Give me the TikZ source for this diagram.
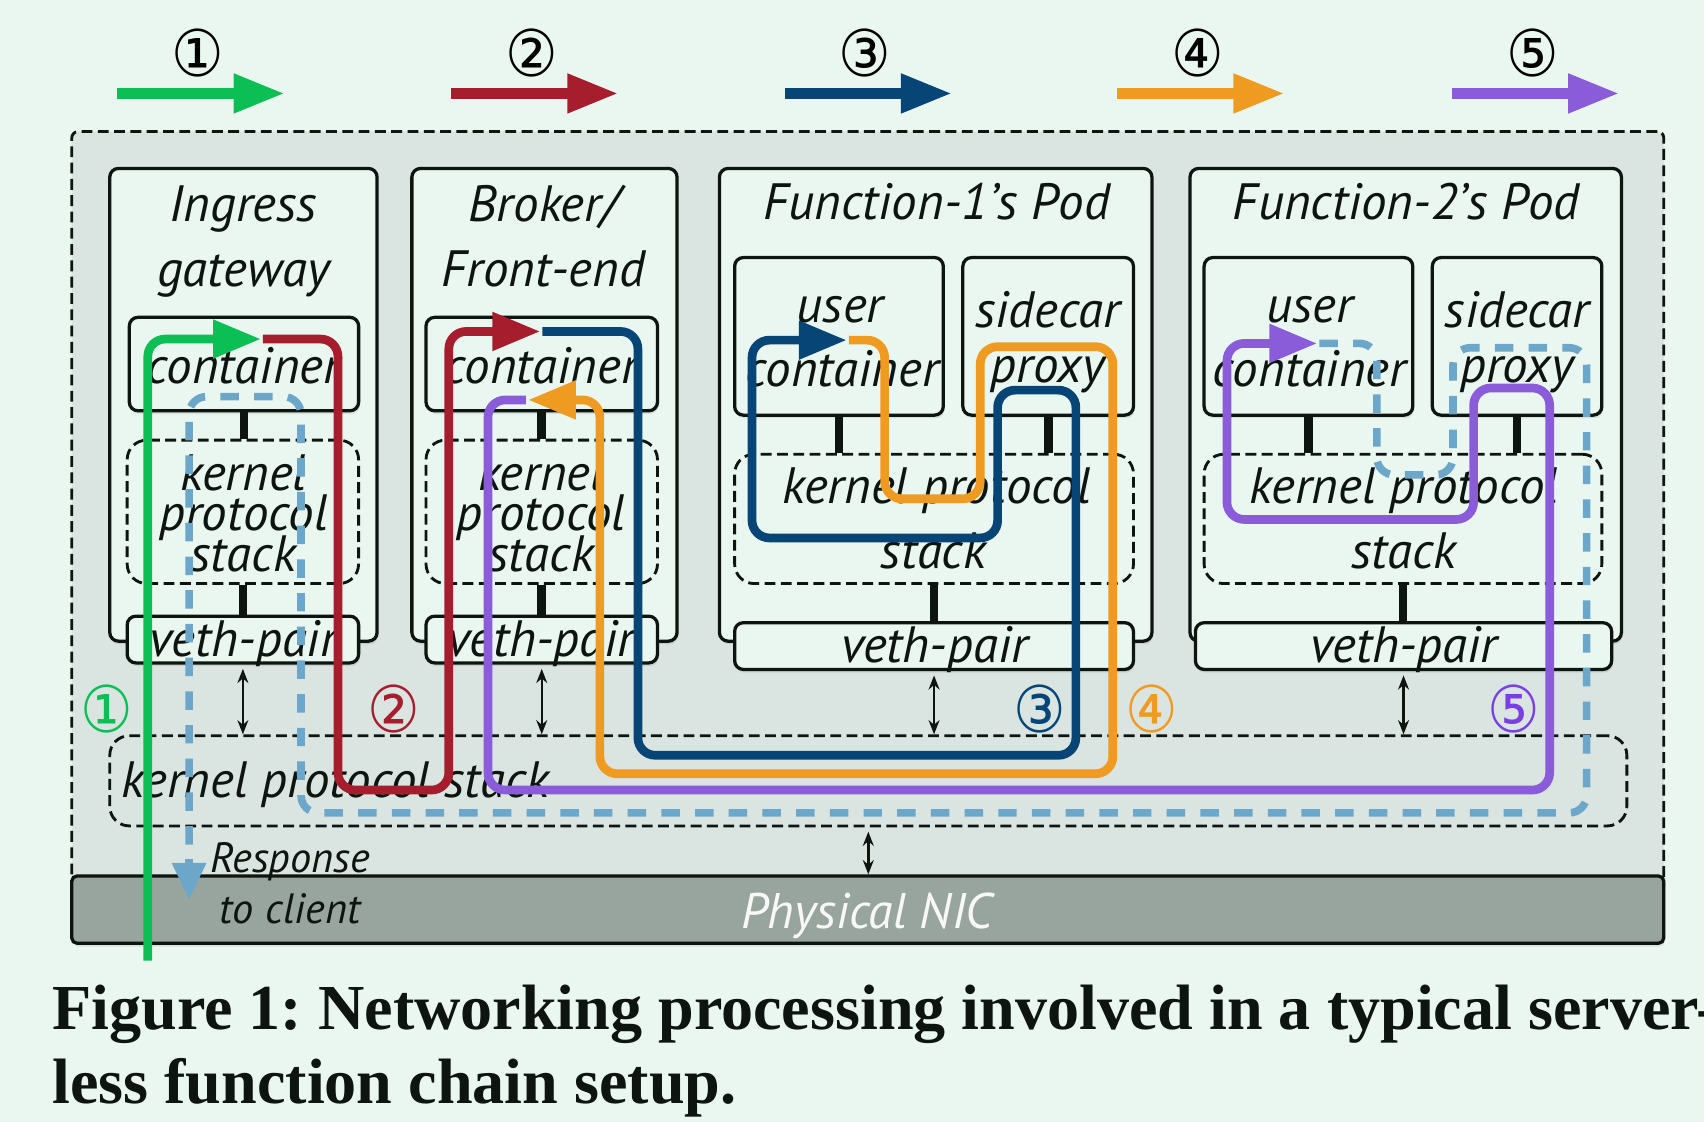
\documentclass[tikz,border=0pt]{standalone}
\usepackage{fontspec}
\usepackage{graphicx}
\setmainfont{Liberation Serif}
\newfontfamily\gill{PT Sans}
\newfontfamily\dejavu{DejaVu Sans}
\usetikzlibrary{arrows.meta,shadows,calc}
\definecolor{bg}{HTML}{EAF7F0}
\definecolor{hostfill}{HTML}{DAE4E0}
\definecolor{nicfill}{HTML}{98A59E}
\definecolor{cgreen}{HTML}{0CBF55}
\definecolor{cred}{HTML}{A61D2E}
\definecolor{cblue}{HTML}{064576}
\definecolor{corange}{HTML}{EF9A20}
\definecolor{cpurple}{HTML}{8A5CD9}
\definecolor{cviolet}{HTML}{7A3FE2}
\definecolor{cresp}{HTML}{6CA7C9}
\definecolor{ink}{HTML}{0E1410}
\newcommand{\cnum}[1]{\scalebox{1}[1.1]{#1}}
\begin{document}
\frenchspacing
\begin{tikzpicture}[x=1pt,y=-1pt,
  lbl/.style={font=\gill\itshape\fontsize{47}{47}\selectfont, inner sep=0pt, anchor=base, text=ink},
  small/.style={font=\gill\itshape\fontsize{39}{39}\selectfont, inner sep=0pt, anchor=base, text=ink},
  circ/.style={font=\dejavu\fontsize{54}{54}\selectfont, inner sep=0pt},
  sbox/.style={draw=ink, line width=3pt, rounded corners=8pt, fill=bg, inner sep=0pt,
     drop shadow={shadow xshift=1pt, shadow yshift=-3pt, opacity=0.18}},
  dbox/.style={draw=ink, line width=2.6pt, dash pattern=on 10pt off 5pt, rounded corners=18pt, inner sep=0pt},
  stem/.style={line width=8pt, ink},
  dbl/.style={{Stealth[length=13pt,width=10pt]}-{Stealth[length=13pt,width=10pt]}, line width=2.2pt, ink, shorten <=4pt},
  flow/.style={line width=8pt, rounded corners=16pt, -{Triangle[length=44pt,width=34pt]}},
  topar/.style={line width=10pt, -{Triangle[length=47pt,width=34pt]}},
  resp/.style={cresp, line width=7pt, dash pattern=on 17pt off 14pt, rounded corners=16pt},
  captext/.style={font=\bfseries\fontsize{59}{59}\selectfont, inner sep=0pt, anchor=base west, text=ink}
]
\fill[bg] (0,0) rectangle (1568,1032);
\useasboundingbox (0,0) rectangle (1568,1032);

% top legend arrows
\foreach \n/\x/\c/\g in {1/108/cgreen/①, 2/415/cred/②, 3/722/cblue/③, 4/1028/corange/④, 5/1336/cpurple/⑤}{
  \coordinate (ls\n) at (\x,86);
  \coordinate (le\n) at (\x+154,86);
  \node[circ] (lg\n) at (\x+74,49) {\cnum{\g}};
  \draw[topar, \c] (ls\n) -- (le\n);
}

% host
\node[draw=ink, line width=2.6pt, dash pattern=on 10pt off 5pt, rounded corners=6pt, fill=hostfill,
  minimum width=1465pt, minimum height=700pt, inner sep=0pt] (host) at (798.5,471) {};
\node[sbox, fill=nicfill, rounded corners=5pt, minimum width=1465pt, minimum height=62pt] (nic) at (798.5,837) {};
\node[font=\gill\itshape\fontsize{46}{46}\selectfont, inner sep=0pt, anchor=base, text=white!92!nicfill] (nict) at (798,854) {Physical NIC};

% pods
\node[sbox, minimum width=246pt, minimum height=435pt] (ingp) at (224,372.5) {};
\node[sbox, minimum width=244pt, minimum height=435pt] (brkp) at (501,372.5) {};
\node[sbox, minimum width=398pt, minimum height=435pt] (f1p) at (861,372.5) {};
\node[sbox, minimum width=397pt, minimum height=435pt] (f2p) at (1293.5,372.5) {};

\node[lbl] (t1a) at (224,204) {Ingress};
\node[lbl] (t1b) at (224,264) {gateway};
\node[lbl] (t2a) at (500,204) {Broker/};
\node[lbl] (t2b) at (500,264) {Front-end};
\node[lbl] (t3) at (862,202) {Function-1’s Pod};
\node[lbl] (t4) at (1294,202) {Function-2’s Pod};

% containers
\node[sbox, minimum width=211pt, minimum height=86pt] (ingc) at (224.5,335) {};
\node[sbox, minimum width=213pt, minimum height=86pt] (brkc) at (498.5,335) {};
\node[sbox, minimum width=192pt, minimum height=145pt] (f1u) at (772,309.5) {};
\node[sbox, minimum width=157pt, minimum height=145pt] (f1s) at (964.5,309.5) {};
\node[sbox, minimum width=192pt, minimum height=145pt] (f2u) at (1204,309.5) {};
\node[sbox, minimum width=156pt, minimum height=145pt] (f2s) at (1396,309.5) {};

% kernel stacks
\node[dbox, minimum width=213pt, minimum height=132pt] (ingk) at (223.5,471) {};
\node[dbox, minimum width=213pt, minimum height=132pt] (brkk) at (498.5,471) {};
\node[dbox, minimum width=367pt, minimum height=119pt] (f1k) at (859.5,477.5) {};
\node[dbox, minimum width=366pt, minimum height=119pt] (f2k) at (1291,477.5) {};
\node[dbox, minimum width=1396pt, minimum height=83pt] (hk) at (799,718.5) {};

% veth
\node[sbox, minimum width=213pt, minimum height=43pt] (ingv) at (223.5,588.5) {};
\node[sbox, minimum width=213pt, minimum height=43pt] (brkv) at (498.5,588.5) {};
\node[sbox, minimum width=367pt, minimum height=43pt] (f1v) at (859.5,594.5) {};
\node[sbox, minimum width=383pt, minimum height=43pt] (f2v) at (1291.5,594.5) {};

% stems
\draw[stem] (ingc.south) -- (ingc.south |- ingk.north);
\draw[stem] (ingk.south) -- (ingk.south |- ingv.north);
\draw[stem] (brkc.south) -- (brkc.south |- brkk.north);
\draw[stem] (brkk.south) -- (brkk.south |- brkv.north);
\draw[stem] (f1u.south) -- (f1u.south |- f1k.north);
\draw[stem] (f1s.south) -- (f1s.south |- f1k.north);
\draw[stem] (f1k.south) -- (f1k.south |- f1v.north);
\draw[stem] (f2u.south) -- (f2u.south |- f2k.north);
\draw[stem] (f2s.south) -- (f2s.south |- f2k.north);
\draw[stem] (f2k.south) -- (f2k.south |- f2v.north);

% double arrows
\draw[dbl] (ingv.south) -- (ingv.south |- hk.north);
\draw[dbl] (brkv.south) -- (brkv.south |- hk.north);
\draw[dbl] (f1v.south) -- (f1v.south |- hk.north);
\draw[dbl] (f2v.south) -- (f2v.south |- hk.north);
\draw[dbl] (hk.south) -- (hk.south |- nic.north);

% texts inside
\node[lbl] (ic) at (224,353) {container};
\node[lbl] (bc) at (498,353) {container};
\node[lbl] (ik1) at (224,451) {kernel};
\node[lbl] (ik2) at (224,488) {protocol};
\node[lbl] (ik3) at (224,526) {stack};
\node[lbl] (bk1) at (498,451) {kernel};
\node[lbl] (bk2) at (498,488) {protocol};
\node[lbl] (bk3) at (498,526) {stack};
\node[lbl] (iv) at (224,604) {veth-pair};
\node[lbl] (bv) at (498,604) {veth-pair};
\node[lbl] (f1ut) at (773,297) {user};
\node[lbl] (f1uc) at (775,356) {container};
\node[lbl] (f1st) at (964,301) {sidecar};
\node[lbl] (f1sp) at (964,352) {proxy};
\node[lbl] (f1kt) at (862,463) {kernel protocol};
\node[lbl] (f1ks) at (859,523) {stack};
\node[lbl] (f1vt) at (860,610) {veth-pair};
\node[lbl] (f2ut) at (1205,297) {user};
\node[lbl] (f2uc) at (1205,356) {container};
\node[lbl] (f2st) at (1396,301) {sidecar};
\node[lbl] (f2sp) at (1396,352) {proxy};
\node[lbl] (f2kt) at (1292,463) {kernel protocol};
\node[lbl] (f2ks) at (1292,523) {stack};
\node[lbl] (f2vt) at (1292,610) {veth-pair};
\node[lbl, anchor=base west] (hkt) at (112,734) {kernel protocol stack};
\node[small] (r1) at (267,803) {Response};
\node[small] (r2) at (267,850) {to client};

% flows
\coordinate (gs) at (136,884);
\coordinate (ge) at (240,312);
\draw[flow, cgreen] (gs) -- (136,312) -- (ge);
\coordinate (rs) at (242,312);
\coordinate (re) at (497,305);
\draw[flow, cred] (rs) -- (311,312) -- (311,727) -- (413,727) -- (413,305) -- (re);
\coordinate (bs) at (499,305);
\coordinate (be) at (779,313);
\draw[flow, cblue] (bs) -- (587,305) -- (587,695) -- (990,695) -- (990,359) -- (918,359) -- (918,495) -- (692,495) -- (692,313) -- (be);
\coordinate (os) at (781,313);
\coordinate (oe) at (486,368);
\draw[flow, corange] (os) -- (814,313) -- (814,459) -- (902,459) -- (902,319) -- (1024,319) -- (1024,712) -- (552,712) -- (552,368) -- (oe);
\coordinate (ps) at (484,368);
\coordinate (pe) at (1212,316);
\draw[flow, cpurple] (ps) -- (449,368) -- (449,727) -- (1426,727) -- (1426,357) -- (1356,357) -- (1356,478) -- (1129,478) -- (1129,316) -- (pe);
\coordinate (qs) at (1214,316);
\coordinate (qe) at (174,828);
\draw[resp] (qs) -- (1267,316) -- (1267,437) -- (1337,437) -- (1337,320) -- (1460,320) -- (1460,748) -- (277,748) -- (277,365) -- (174,365) -- (174,800);
\draw[cresp, line width=7pt, -{Triangle[length=34pt,width=30pt]}] (174,790) -- (qe);

% middle circled labels
\node[circ, text=cgreen] (m1) at (98,652) {\cnum{①}};
\node[circ, text=cred] (m2) at (362,652) {\cnum{②}};
\node[circ, text=cblue] (m3) at (957,652) {\cnum{③}};
\node[circ, text=corange] (m4) at (1060,652) {\cnum{④}};
\node[circ, text=cviolet] (m5) at (1393,652) {\cnum{⑤}};

% caption
\node[captext] (c1) at (48,947) {Figure 1: Networking processing involved in a typical server-};
\node[captext] (c2) at (48,1015) {less function chain setup.};
\end{tikzpicture}
\end{document}
